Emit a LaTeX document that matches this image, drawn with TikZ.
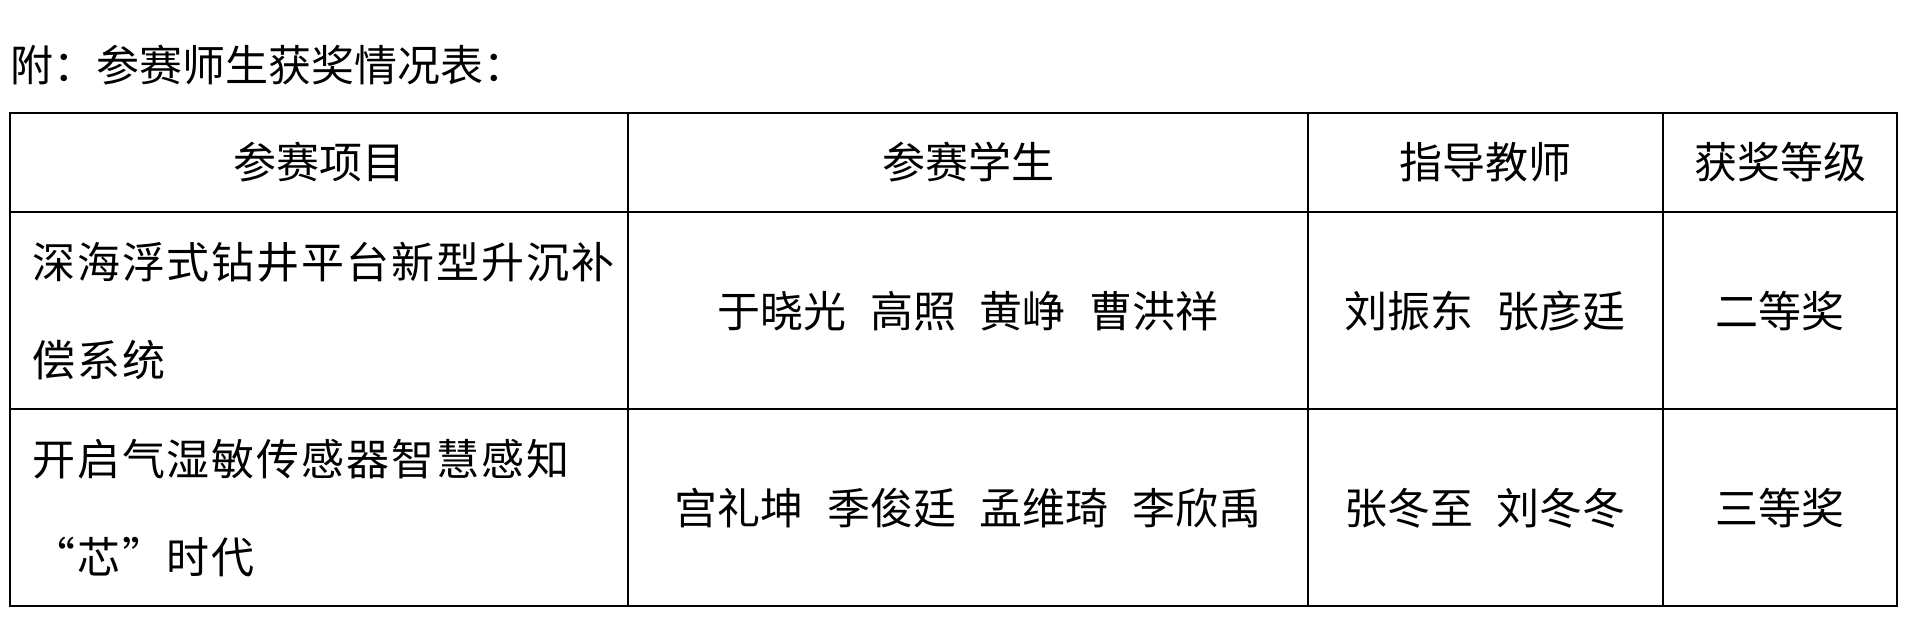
\documentclass[tikz,border=0pt]{standalone}
\usepackage{fontspec}
\usepackage{tikz}
\newfontfamily\cjk{Noto Sans CJK SC}

\begin{document}
\begin{tikzpicture}[
    x=1pt, y=-1pt,
    cell/.style={font=\cjk\fontsize{43}{43}\selectfont, inner sep=0pt},
    proj/.style={font=\cjk\addfontfeature{LetterSpace=4.5}\fontsize{43}{43}\selectfont, inner sep=0pt, anchor=west},
    rule/.style={line width=2.5pt, line cap=rect}
]
\useasboundingbox (0,0) rectangle (1931,622);

% Title
\node[cell, anchor=west] (title) at (10,65) {附：参赛师生获奖情况表：};

% Table rules
\foreach \y in {113,212,409,606}
  \draw[rule] (10,\y) -- (1897,\y);
\foreach \x in {10,628,1308,1663,1897}
  \draw[rule] (\x,113) -- (\x,606);

% Header row
\node[cell] (hproj) at (319,162) {参赛项目};
\node[cell] (hstud) at (968,162) {参赛学生};
\node[cell] (hteach) at (1485,162) {指导教师};
\node[cell] (haward) at (1780,162) {获奖等级};

% First entry
\node[proj] (proja) at (32,262) {深海浮式钻井平台新型升沉补};
\node[proj] (projb) at (32,360) {偿系统};
\node[cell] (studa) at (968,311) {于晓光\hspace{0.55em}高照\hspace{0.55em}黄峥\hspace{0.55em}曹洪祥};
\node[cell] (teacha) at (1485,311) {刘振东\hspace{0.55em}张彦廷};
\node[cell] (awarda) at (1780,311) {二等奖};

% Second entry
\node[proj] (projc) at (32,459) {开启气湿敏传感器智慧感知};
\node[proj] (projd) at (32,557) {“芯”时代};
\node[cell] (studb) at (968,508) {宫礼坤\hspace{0.55em}季俊廷\hspace{0.55em}孟维琦\hspace{0.55em}李欣禹};
\node[cell] (teachb) at (1485,508) {张冬至\hspace{0.55em}刘冬冬};
\node[cell] (awardb) at (1780,508) {三等奖};

\end{tikzpicture}
\end{document}
